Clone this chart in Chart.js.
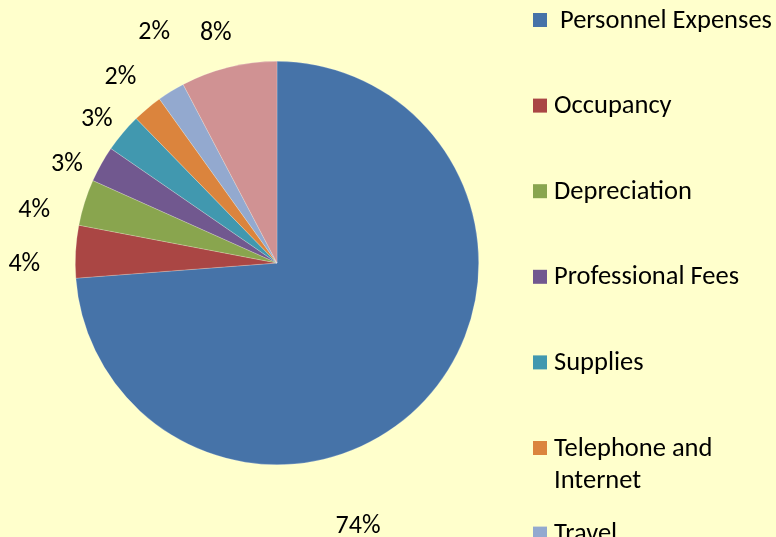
<!DOCTYPE html>
<html><head><meta charset="utf-8">
<script src="https://cdn.jsdelivr.net/npm/chart.js@4.4.1/dist/chart.umd.min.js"></script>
<style>html,body{margin:0;padding:0;background:#FFFFCC;overflow:hidden}#wrap{width:776px;height:537px}</style>
</head><body><div id="wrap"><canvas id="c" width="776" height="537"></canvas></div>
<script>
// ---- data ----
const categories = [' Personnel Expenses', 'Occupancy', 'Depreciation', 'Professional Fees', 'Supplies', 'Telephone and Internet', 'Travel', 'Other'];
const values = [73.8, 4.2, 3.7, 2.9, 3.1, 2.4, 2.2, 7.7];
const colors = ['#4673A8', '#AA4644', '#89A54E', '#71588F', '#4198AF', '#DB843D', '#93A9CF', '#D09293'];
// label placement tweaks (Excel "best fit" look): angle shift in degrees, gap beyond the rim in px
const labelAngleShift = [30, -3.3, -5, -3.9, -1.5, 0, 3.7, -1];
const labelGap = [73, 51, 47, 31, 29, 42, 60, 37];

const FONT = 'Carlito, Calibri, Lato, sans-serif';

const bgPlugin = {
  id: 'bg',
  beforeDraw(chart) {
    const ctx = chart.ctx;
    ctx.save();
    ctx.fillStyle = '#FFFFCC';
    ctx.fillRect(0, 0, chart.width, chart.height);
    ctx.restore();
  }
};

const sliceLabels = {
  id: 'sliceLabels',
  afterDatasetsDraw(chart) {
    const ctx = chart.ctx;
    const meta = chart.getDatasetMeta(0);
    const data = chart.data.datasets[0].data;
    const total = data.reduce((a, b) => a + b, 0);
    ctx.save();
    ctx.font = '26px ' + FONT;
    ctx.fillStyle = '#000';
    ctx.textAlign = 'center';
    ctx.textBaseline = 'middle';
    meta.data.forEach((arc, i) => {
      const p = arc.getProps(['x', 'y', 'startAngle', 'endAngle', 'outerRadius'], true);
      const a = (p.startAngle + p.endAngle) / 2 + labelAngleShift[i] * Math.PI / 180;
      const r = p.outerRadius + labelGap[i];
      ctx.fillText(Math.round(data[i] / total * 100) + '%', p.x + Math.cos(a) * r, p.y + Math.sin(a) * r + 1);
    });
    ctx.restore();
  }
};

function wrapText(ctx, text, maxW) {
  if (ctx.measureText(text).width <= maxW) return [text];
  const words = text.split(' ');
  const lines = [];
  let cur = '';
  words.forEach(w => {
    const t = cur === '' ? w : cur + ' ' + w;
    if (ctx.measureText(t).width > maxW && cur.trim() !== '') { lines.push(cur); cur = w; }
    else cur = t;
  });
  lines.push(cur);
  return lines;
}

const sideLegend = {
  id: 'sideLegend',
  afterDraw(chart) {
    const o = chart.options.plugins.sideLegend;
    const ctx = chart.ctx;
    const labels = chart.data.labels;
    const cols = chart.data.datasets[0].backgroundColor;
    ctx.save();
    ctx.font = o.fontSize + 'px ' + FONT;
    ctx.textBaseline = 'middle';
    ctx.textAlign = 'left';
    const tx = o.left + o.box + o.gap;
    labels.forEach((name, i) => {
      const cy = o.top + i * o.step;
      ctx.fillStyle = cols[i];
      ctx.fillRect(o.left, cy - o.box / 2, o.box, o.box);
      ctx.fillStyle = '#000';
      const lines = wrapText(ctx, name, chart.width - tx + 6);
      lines.forEach((ln, j) => ctx.fillText(ln, tx, cy + 1 + j * o.lineHeight));
    });
    ctx.restore();
  }
};

new Chart(document.getElementById('c'), {
  type: 'pie',
  data: {
    labels: categories,
    datasets: [{
      data: values,
      backgroundColor: colors,
      borderColor: 'rgba(255,255,255,0.35)',
      borderWidth: 0.6
    }]
  },
  options: {
    responsive: false,
    animation: false,
    devicePixelRatio: 1,
    layout: { padding: { left: 0, right: 222, top: 61, bottom: 72 } },
    plugins: {
      legend: { display: false },
      tooltip: { enabled: false },
      sideLegend: { left: 533, top: 20, step: 85.6, box: 14, gap: 7, fontSize: 26.5, lineHeight: 32.5 }
    }
  },
  plugins: [bgPlugin, sliceLabels, sideLegend]
});
</script>
</body></html>
